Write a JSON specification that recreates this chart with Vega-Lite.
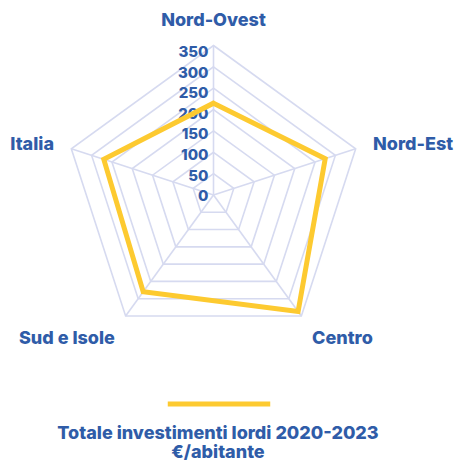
{
  "$schema": "https://vega.github.io/schema/vega-lite/v6.json",
  "width": 436,
  "height": 371,
  "autosize": {"type": "none"},
  "padding": {"left": 0, "top": 0, "right": 18, "bottom": 90},
  "background": "white",
  "config": {"view": {"stroke": null}, "font": "Inter"},
  "datasets": {
    "regioni": [
      {"regione": "Nord-Ovest", "ordine": 0, "valore": 215},
      {"regione": "Nord-Est", "ordine": 1, "valore": 275},
      {"regione": "Centro", "ordine": 2, "valore": 337},
      {"regione": "Sud e Isole", "ordine": 3, "valore": 280},
      {"regione": "Italia", "ordine": 4, "valore": 270}
    ],
    "griglia": [
      {"livello": 0, "ordine": [0, 1, 2, 3, 4]},
      {"livello": 50, "ordine": [0, 1, 2, 3, 4]},
      {"livello": 100, "ordine": [0, 1, 2, 3, 4]},
      {"livello": 150, "ordine": [0, 1, 2, 3, 4]},
      {"livello": 200, "ordine": [0, 1, 2, 3, 4]},
      {"livello": 250, "ordine": [0, 1, 2, 3, 4]},
      {"livello": 300, "ordine": [0, 1, 2, 3, 4]},
      {"livello": 350, "ordine": [0, 1, 2, 3, 4]}
    ]
  },
  "layer": [
    {
      "data": {"name": "griglia"},
      "transform": [
        {"flatten": ["ordine"]},
        {"calculate": "datum.ordine * 2 * PI / 5", "as": "ang"},
        {"calculate": "datum.livello * sin(datum.ang)", "as": "gx"},
        {"calculate": "datum.livello * cos(datum.ang)", "as": "gy"}
      ],
      "mark": {"type": "line", "interpolate": "linear-closed", "stroke": "#d6daf0", "strokeWidth": 1.6},
      "encoding": {
        "x": {"field": "gx", "type": "quantitative", "scale": {"domain": [-499.8, 520.9], "nice": false, "zero": false}, "axis": null},
        "y": {"field": "gy", "type": "quantitative", "scale": {"domain": [-412.0, 456.5], "nice": false, "zero": false}, "axis": null},
        "detail": {"field": "livello", "type": "nominal"},
        "order": {"field": "ordine", "type": "quantitative"}
      }
    },
    {
      "data": {"name": "griglia"},
      "transform": [
        {"filter": "datum.livello == 350"},
        {"flatten": ["ordine"]},
        {"calculate": "datum.ordine * 2 * PI / 5", "as": "ang"},
        {"calculate": "datum.livello * sin(datum.ang)", "as": "gx"},
        {"calculate": "datum.livello * cos(datum.ang)", "as": "gy"}
      ],
      "mark": {"type": "rule", "stroke": "#d6daf0", "strokeWidth": 1.6},
      "encoding": {
        "x": {"field": "gx", "type": "quantitative", "axis": null},
        "y": {"field": "gy", "type": "quantitative", "axis": null},
        "x2": {"datum": 0},
        "y2": {"datum": 0}
      }
    },
    {
      "data": {"name": "griglia"},
      "transform": [
        {"calculate": "0", "as": "gx"},
        {"calculate": "datum.livello * 0.96", "as": "gy"}
      ],
      "mark": {"type": "text", "align": "right", "baseline": "middle", "dx": -5, "dy": 1, "fontSize": 15, "fontWeight": 800, "color": "#2f5ca8"},
      "encoding": {
        "x": {"field": "gx", "type": "quantitative", "axis": null},
        "y": {"field": "gy", "type": "quantitative", "axis": null},
        "text": {"field": "livello", "type": "quantitative"}
      }
    },
    {
      "data": {"name": "regioni"},
      "transform": [
        {"calculate": "datum.ordine * 2 * PI / 5", "as": "ang"},
        {"calculate": "datum.valore * sin(datum.ang)", "as": "px"},
        {"calculate": "datum.valore * cos(datum.ang)", "as": "py"}
      ],
      "mark": {"type": "line", "interpolate": "linear-closed", "strokeWidth": 5, "strokeJoin": "miter"},
      "encoding": {
        "x": {"field": "px", "type": "quantitative", "axis": null},
        "y": {"field": "py", "type": "quantitative", "axis": null},
        "order": {"field": "ordine", "type": "quantitative"},
        "stroke": {
          "datum": "Totale",
          "scale": {"range": ["#fdca30"]},
          "legend": {
            "orient": "none",
            "legendX": 57,
            "legendY": 391,
            "title": ["Totale investimenti lordi 2020-2023", "€/abitante"],
            "titleOrient": "bottom",
            "titleAnchor": "middle",
            "titleAlign": "center",
            "titleFont": "Inter",
            "titleFontSize": 18,
            "titleFontWeight": 800,
            "titleColor": "#2f5ca8",
            "titleLineHeight": 19,
            "titlePadding": 11,
            "titleLimit": 600,
            "labelExpr": "''",
            "labelOffset": 0,
            "symbolType": "M-5,0H5",
            "symbolSize": 420,
            "symbolStrokeWidth": 5,
            "symbolOffset": 51
          }
        }
      }
    },
    {
      "data": {"name": "regioni"},
      "transform": [
        {"calculate": "datum.ordine * 2 * PI / 5", "as": "ang"},
        {"calculate": "392.6 * sin(datum.ang)", "as": "lx"},
        {"calculate": "392.6 * cos(datum.ang)", "as": "ly"}
      ],
      "mark": {
        "type": "text",
        "fontSize": 18,
        "fontWeight": 800,
        "color": "#2f5ca8",
        "baseline": "middle",
        "align": {"expr": "datum.ordine == 0 ? 'center' : (datum.ordine <= 2 ? 'left' : 'right')"},
        "dy": {"expr": "datum.ordine == 0 ? -6 : ((datum.ordine == 2 || datum.ordine == 3) ? 8 : 1.5)"}
      },
      "encoding": {
        "x": {"field": "lx", "type": "quantitative", "axis": null},
        "y": {"field": "ly", "type": "quantitative", "axis": null},
        "text": {"field": "regione", "type": "nominal"}
      }
    }
  ]
}
